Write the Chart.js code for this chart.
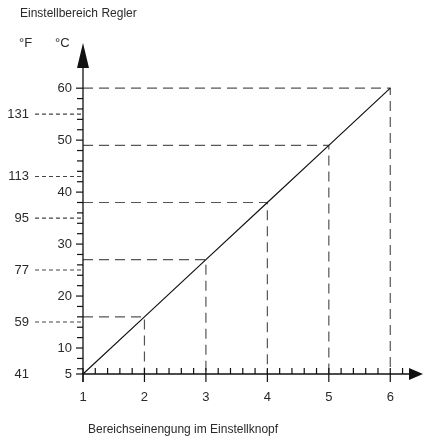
<!DOCTYPE html>
<html>
<head>
<meta charset="utf-8">
<script src="https://cdn.jsdelivr.net/npm/chart.js@4"></script>
<style>
html,body{margin:0;padding:0;background:#fff;}
#wrap{position:relative;width:426px;height:439px;}
</style>
</head>
<body>
<div id="wrap"><canvas id="c"></canvas></div>
<script>
// ---- data ----
const knobPositions = [1, 2, 3, 4, 5, 6];          // x categories (Einstellknopf)
const celsiusValues = [5, 16, 27, 38, 49, 60];      // set range °C
const celsiusTickLabels = [5, 10, 20, 30, 40, 50, 60];
const celsiusMinorTicks = [6, 8, 12, 14, 16, 18, 22, 24, 26, 28, 32, 34, 36, 38, 42, 44, 46, 48, 52, 54, 56, 58];
const fahrenheitLabels = ['41', '59', '77', '95', '113', '131'];
const fahrenheitAtCelsius = [5, 15, 25, 35, 43, 55];
const xTickLabels = ['1', '2', '3', '4', '5', '6'];
const titleTop = 'Einstellbereich Regler';
const titleBottom = 'Bereichseinengung im Einstellknopf';

const FONT = '"Liberation Sans", Arial, sans-serif';
const TEXT = '#2a2a2a';

const mainLine = knobPositions.map((x, i) => ({x, y: celsiusValues[i]}));
const guideSets = knobPositions.slice(1).map((x, k) => {
  const v = celsiusValues[k + 1];
  return {
    data: [{x: knobPositions[0], y: v}, {x, y: v}, {x, y: celsiusValues[0]}],
    showLine: true, borderColor: '#555', borderWidth: 1.2, borderDash: [10, 6],
    pointRadius: 0, fill: false, clip: false, order: 2
  };
});

const axesPlugin = {
  id: 'axesPlugin',
  afterDraw(chart) {
    const ctx = chart.ctx, xs = chart.scales.x, ys = chart.scales.y;
    const x0 = xs.getPixelForValue(knobPositions[0]);
    const y0 = ys.getPixelForValue(celsiusValues[0]);
    ctx.save();
    ctx.strokeStyle = '#111'; ctx.fillStyle = '#111'; ctx.lineWidth = 1.3;
    // y axis
    ctx.beginPath(); ctx.moveTo(x0, y0 + 8); ctx.lineTo(x0, ys.top + 20); ctx.stroke();
    ctx.beginPath(); ctx.moveTo(x0, ys.top - 1); ctx.lineTo(x0 - 6, ys.top + 24); ctx.lineTo(x0 + 6, ys.top + 24); ctx.closePath(); ctx.fill();
    // x axis
    ctx.beginPath(); ctx.moveTo(x0, y0); ctx.lineTo(xs.right - 10, y0); ctx.stroke();
    ctx.beginPath(); ctx.moveTo(xs.right + 2, y0); ctx.lineTo(xs.right - 12, y0 - 6); ctx.lineTo(xs.right - 12, y0 + 6); ctx.closePath(); ctx.fill();
    // x ticks
    ctx.lineWidth = 1.2;
    for (let i = 0; i < knobPositions.length; i++) {
      const base = knobPositions[i];
      const px = xs.getPixelForValue(base);
      ctx.beginPath(); ctx.moveTo(px, y0 - 6); ctx.lineTo(px, y0 + 8); ctx.stroke();
      for (let s = 1; s <= 4; s++) {
        const mx = xs.getPixelForValue(base + s * 0.2);
        if (mx > xs.right - 14) break;
        ctx.beginPath(); ctx.moveTo(mx, y0 - 6); ctx.lineTo(mx, y0); ctx.stroke();
      }
    }
    // y ticks
    celsiusTickLabels.forEach(v => {
      const py = ys.getPixelForValue(v);
      ctx.beginPath(); ctx.moveTo(x0 - 7, py); ctx.lineTo(x0, py); ctx.stroke();
    });
    celsiusMinorTicks.forEach(v => {
      const py = ys.getPixelForValue(v);
      ctx.beginPath(); ctx.moveTo(x0 - 6, py); ctx.lineTo(x0, py); ctx.stroke();
    });
    // Fahrenheit dashes
    ctx.strokeStyle = '#444'; ctx.lineWidth = 1.1; ctx.setLineDash([4, 3]);
    fahrenheitAtCelsius.forEach((v, i) => {
      if (i === 0) return;
      const py = ys.getPixelForValue(v);
      ctx.beginPath(); ctx.moveTo(35, py); ctx.lineTo(x0, py); ctx.stroke();
    });
    ctx.setLineDash([]);
    // labels
    ctx.fillStyle = TEXT; ctx.font = '13px ' + FONT; ctx.textBaseline = 'middle';
    ctx.textAlign = 'right';
    celsiusTickLabels.forEach(v => ctx.fillText(String(v), x0 - 11, ys.getPixelForValue(v)));
    fahrenheitLabels.forEach((t, i) => ctx.fillText(t, 29, ys.getPixelForValue(fahrenheitAtCelsius[i])));
    ctx.textAlign = 'center';
    xTickLabels.forEach((t, i) => ctx.fillText(t, xs.getPixelForValue(knobPositions[i]), y0 + 23));
    ctx.textAlign = 'left';
    ctx.fillText('°F', 19, 43);
    ctx.fillText('°C', 55, 43);
    ctx.font = '12px ' + FONT;
    ctx.fillText(titleTop, 20, 14);
    ctx.fillText(titleBottom, 88, 430);
    ctx.restore();
  }
};

new Chart(document.getElementById('c'), {
  type: 'scatter',
  data: {
    datasets: [
      {data: mainLine, showLine: true, borderColor: '#111', borderWidth: 1.2, pointRadius: 0, fill: false, clip: false, order: 1},
      ...guideSets
    ]
  },
  options: {
    responsive: true, maintainAspectRatio: false, animation: false,
    layout: {padding: {left: 83, right: 5, top: 44, bottom: 65}},
    plugins: {legend: {display: false}, tooltip: {enabled: false}},
    events: [],
    scales: {
      x: {type: 'linear', min: 1, max: 6.5, display: false},
      y: {type: 'linear', min: 5, max: 68.5, display: false}
    }
  },
  plugins: [axesPlugin]
});
</script>
</body>
</html>
